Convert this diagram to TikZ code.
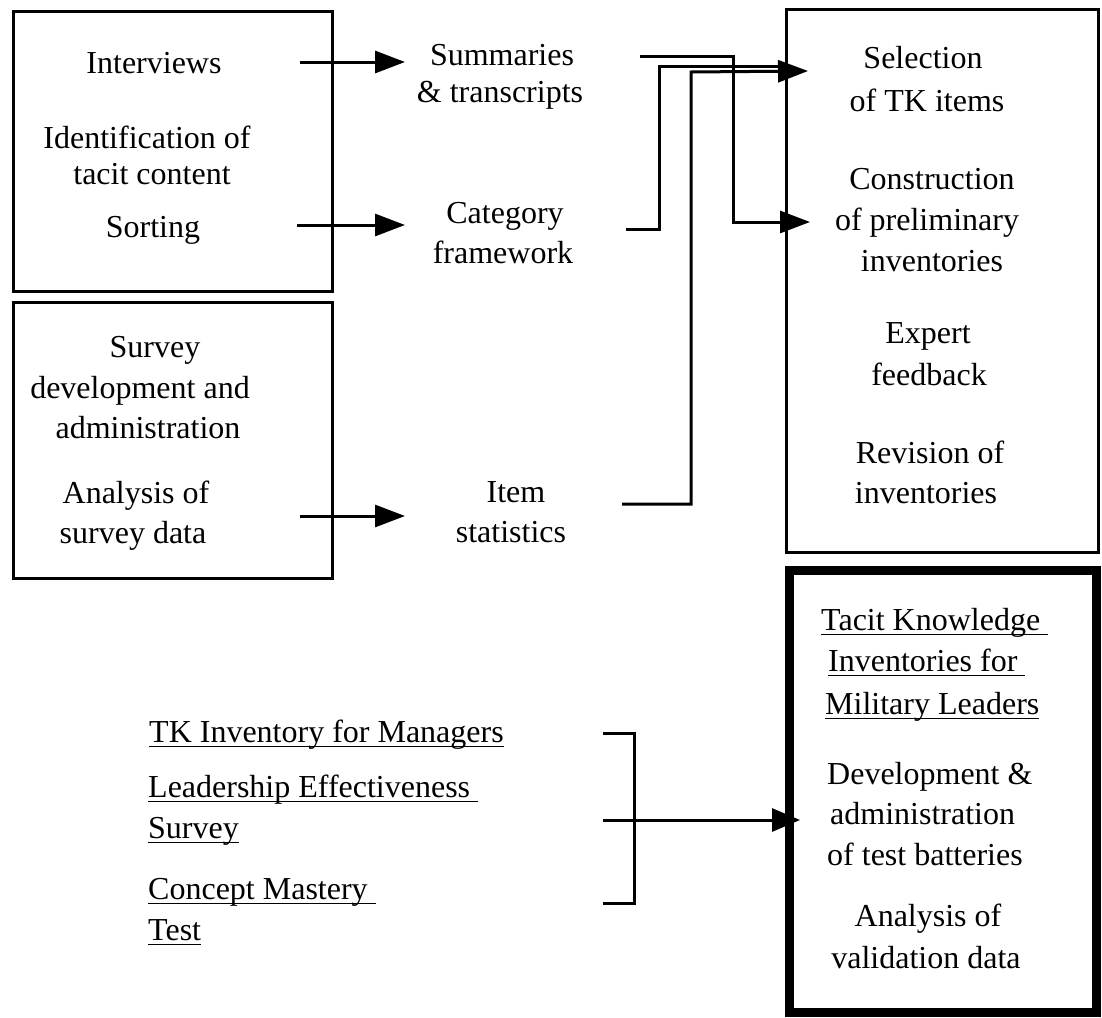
\documentclass[tikz,border=0pt]{standalone}
\usepackage{fontspec}
\setmainfont{Liberation Serif}
\usetikzlibrary{arrows.meta}

% underline as in the scanned original (close to the baseline)
\newcommand\tkline[1]{\setbox0=\hbox{#1}\rlap{\rule[-0.17em]{\wd0}{0.05em}}\box0}

\begin{document}
\begin{tikzpicture}[x=1pt,y=-1pt,
  txt/.style={font=\fontsize{32}{40}\selectfont, inner sep=0pt, anchor=base},
  ltxt/.style={txt, anchor=base west},
  frame/.style={line width=3pt},
  wire/.style={line width=3pt},
  arr/.style={line width=3pt, -{Triangle[length=30pt,width=22pt]}},
  ]
\useasboundingbox (0,0) rectangle (1102,1017);

% Interview box
\draw[frame] (13,11) rectangle (332,291);
\node[txt] (int) at (154,73) {Interviews};
\node[txt] (ident1) at (147,148) {Identification of};
\node[txt] (ident2) at (152,184) {tacit content};
\node[txt] (sort) at (153,237) {Sorting};

% Survey box
\draw[frame] (13,302) rectangle (332,578);
\node[txt] (surv1) at (155,357) {Survey};
\node[txt] (surv2) at (140,398) {development and};
\node[txt] (surv3) at (148,438) {administration};
\node[txt] (anal1) at (136,503) {Analysis of};
\node[txt] (anal2) at (133,543) {survey data};

% Products in the middle
\node[txt] (summ1) at (502,65) {Summaries};
\node[txt] (summ2) at (500,102) {\& transcripts};
\node[txt] (cat1) at (505,223) {Category};
\node[txt] (cat2) at (503,263) {framework};
\node[txt] (item1) at (516,502) {Item};
\node[txt] (item2) at (511,542) {statistics};

% Inventory box
\draw[frame] (786,9) rectangle (1098,552);
\node[txt] (sel1) at (923,68) {Selection};
\node[txt] (sel2) at (927,111) {of TK items};
\node[txt] (con1) at (932,189) {Construction};
\node[txt] (con2) at (927,230) {of preliminary};
\node[txt] (con3) at (932,271) {inventories};
\node[txt] (exp1) at (928,343) {Expert};
\node[txt] (exp2) at (929,385) {feedback};
\node[txt] (rev1) at (930,463) {Revision of};
\node[txt] (rev2) at (926,503) {inventories};

% Validation box (heavy frame)
\draw[line width=9pt] (789,570) rectangle (1096,1012);
\node[ltxt] (tki1) at (821,630) {\tkline{Tacit Knowledge\ }};
\node[ltxt] (tki2) at (828,671) {\tkline{Inventories for\ }};
\node[ltxt] (tki3) at (825,714) {\tkline{Military Leaders}};
\node[ltxt] (dev1) at (827,784) {Development \&};
\node[ltxt] (dev2) at (830,824) {administration};
\node[ltxt] (dev3) at (827,865) {of test batteries};
\node[txt] (val1) at (928,926) {Analysis of};
\node[txt] (val2) at (926,968) {validation data};

% Other instruments
\node[ltxt] (tkm) at (149,742) {\tkline{TK Inventory for Managers}};
\node[ltxt] (les1) at (148,797) {\tkline{Leadership Effectiveness\ }};
\node[ltxt] (les2) at (148,838) {\tkline{Survey}};
\node[ltxt] (cmt1) at (148,899) {\tkline{Concept Mastery\ }};
\node[ltxt] (cmt2) at (148,940) {\tkline{Test}};

% Arrows out of the left boxes
\coordinate (intout) at (300,62);
\coordinate (sumin) at (405,62);
\coordinate (sortout) at (297,225);
\coordinate (catin) at (405,225);
\coordinate (analout) at (300,516);
\coordinate (itemin) at (405,516);
\draw[arr] (intout) -- (sumin);
\draw[arr] (sortout) -- (catin);
\draw[arr] (analout) -- (itemin);

% Routed lines into the inventory box
\coordinate (sumout) at (640,56);
\coordinate (catout) at (626,229);
\coordinate (itemout) at (622,504);
\coordinate (selin) at (808,71);
\coordinate (conin) at (810,222);
\draw[arr] (sumout) -| (733,222) -- (conin);
\draw[wire] (catout) -| (659,66) -- (790,66);
\draw[arr] (itemout) -| (691,72) -- (selin);

% Bracket into the validation box
\coordinate (brtop) at (603,733);
\coordinate (brmid) at (603,820);
\coordinate (brbot) at (603,903);
\coordinate (valin) at (800,820);
\draw[wire] (brtop) -- (634,733) -- (634,903) -- (brbot);
\draw[line width=3pt, -{Triangle[length=28pt,width=23pt]}] (brmid) -- (valin);

\end{tikzpicture}
\end{document}
